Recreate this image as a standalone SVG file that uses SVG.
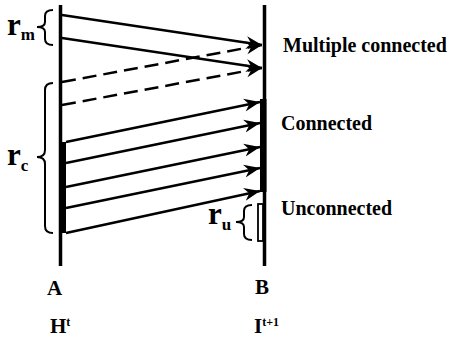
<svg xmlns="http://www.w3.org/2000/svg" width="452" height="342" viewBox="0 0 452 342">
<style>
  .t{font-family:"Liberation Serif","Times New Roman",serif;font-weight:bold;fill:#000}
  .ln{stroke:#000;stroke-width:2.5;fill:none}
  .ar{stroke:#000;stroke-width:2.5;fill:none;marker-end:url(#ah)}
  .da{stroke-dasharray:14 7}
  .br{stroke:#000;stroke-width:2;fill:none}
</style>
<defs>
  <marker id="ah" markerUnits="userSpaceOnUse" markerWidth="20" markerHeight="16" viewBox="-16 -8 20 16" refX="0" refY="0" orient="auto">
    <path d="M-16,-6.5 L0,0 L-16,6.5 L-11,0 z" fill="#000"/>
  </marker>
</defs>
<rect width="452" height="342" fill="#fff"/>
<g id="A">
  <line x1="60.5" y1="5" x2="60.5" y2="266" stroke="#000" stroke-width="3.5"/>
  <rect x="59" y="142" width="7" height="91" fill="#000"/>
  <text class="t" x="47" y="295" font-size="21">A</text>
  <text class="t" x="50" y="333" font-size="21">H<tspan font-size="12" dy="-7">t</tspan></text>
</g>
<g id="B">
  <line x1="264.5" y1="5" x2="264.5" y2="266" stroke="#000" stroke-width="3.5"/>
  <rect x="260" y="99" width="6.5" height="93" fill="#000"/>
  <rect x="258" y="204" width="5" height="37" fill="#fff" stroke="#000" stroke-width="1.8"/>
  <text class="t" x="255" y="294" font-size="21">B</text>
  <text class="t" x="254" y="333" font-size="21">I<tspan font-size="12" dy="-7">t+1</tspan></text>
</g>
<g id="rm">
  <path class="br" d="M53,10 Q45,10 45,16 L45,22 Q45,27 37,27 Q45,27 45,32 L45,39 Q45,45 53,45"/>
  <text class="t" x="7" y="35" font-size="31">r<tspan font-size="17" dy="5">m</tspan></text>
</g>
<g id="rc">
  <path class="br" d="M53,83 Q45,83 45,90 L45,150 Q45,157 37,157 Q45,157 45,164 L45,226 Q45,233 53,233"/>
  <text class="t" x="7" y="165" font-size="31">r<tspan font-size="17" dy="6">c</tspan></text>
</g>
<g id="ru">
  <path class="br" d="M252,205 Q244,205 244,211 L244,217 Q244,222 236,222 Q244,222 244,227 L244,234 Q244,240 252,240"/>
  <text class="t" x="208" y="224" font-size="31">r<tspan font-size="17" dy="6">u</tspan></text>
</g>
<g id="labels">
  <text class="t" x="283" y="52" font-size="20">Multiple connected</text>
  <text class="t" x="281" y="130" font-size="20">Connected</text>
  <text class="t" x="281" y="215" font-size="20">Unconnected</text>
</g>
<g id="connectors">
  <line class="ar" x1="62" y1="15" x2="262" y2="45"/>
  <line class="ar" x1="62" y1="38" x2="262" y2="68"/>
  <line class="ar da" x1="62" y1="82" x2="262" y2="45"/>
  <line class="ar da" x1="62" y1="105" x2="262" y2="68"/>
  <line class="ar" x1="66" y1="142" x2="260" y2="102"/>
  <line class="ar" x1="66" y1="163" x2="260" y2="123"/>
  <line class="ar" x1="66" y1="187" x2="260" y2="147"/>
  <line class="ar" x1="66" y1="208" x2="260" y2="168"/>
  <line class="ar" x1="66" y1="233" x2="260" y2="191"/>
</g>
</svg>
